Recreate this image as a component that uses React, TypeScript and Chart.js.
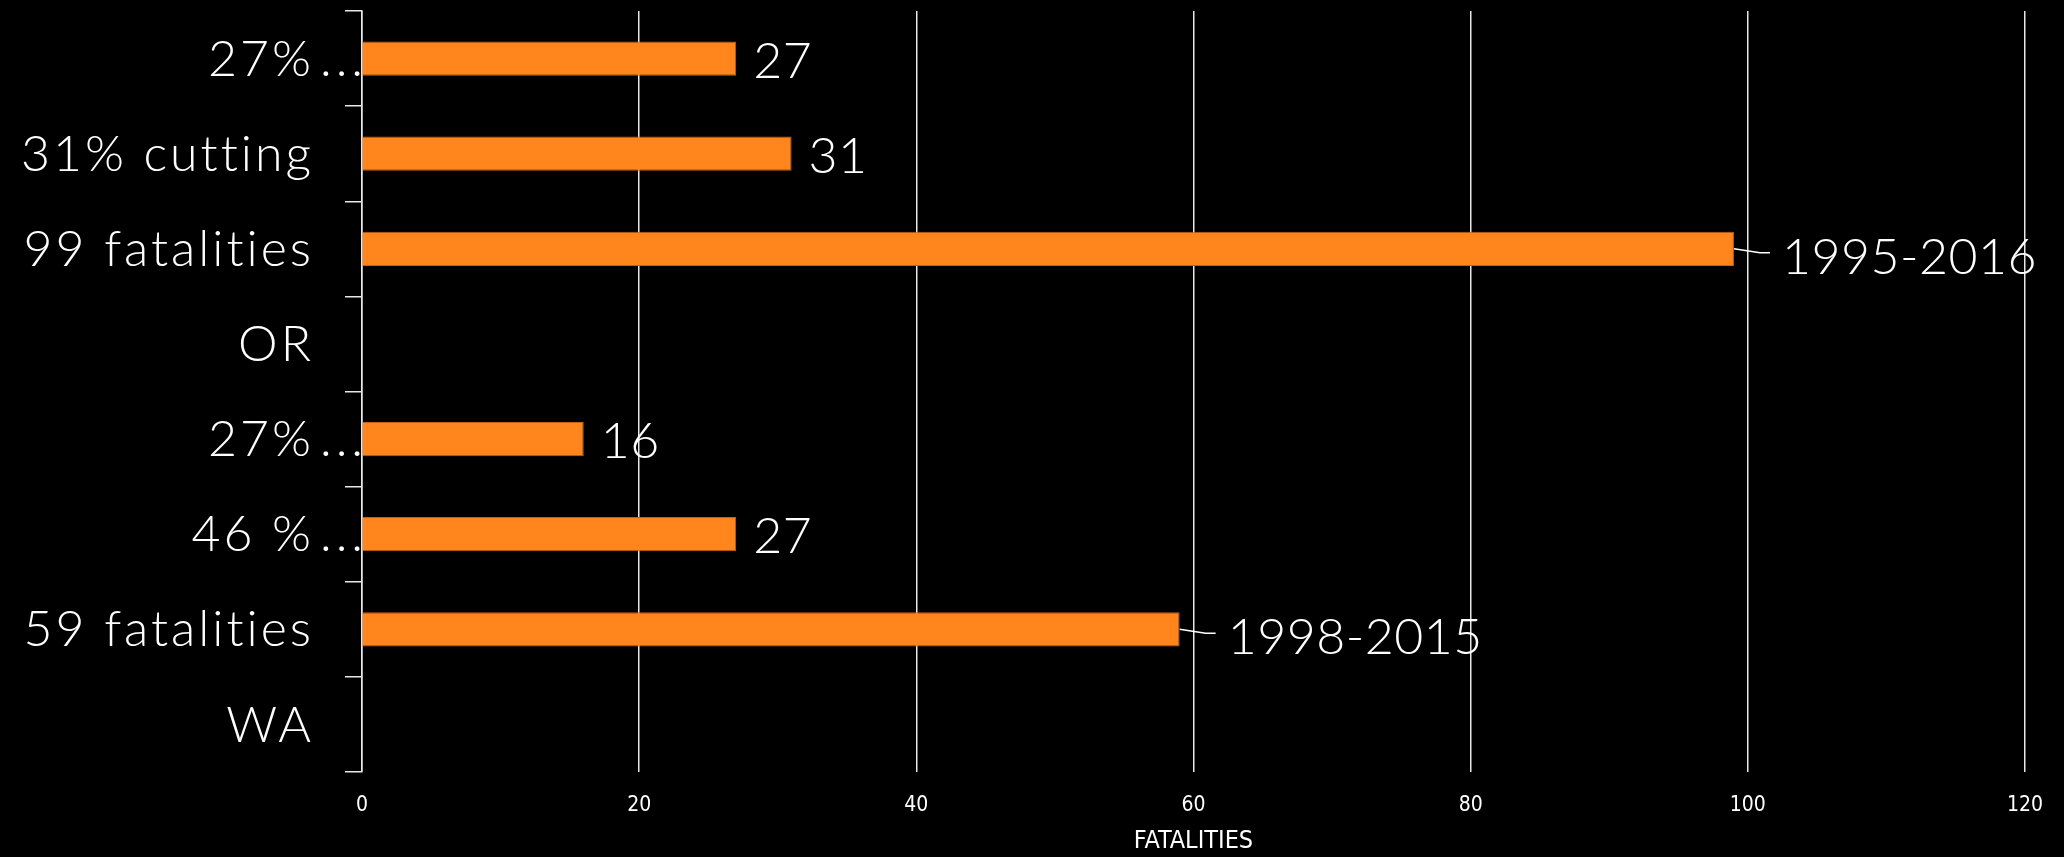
import React, { useEffect, useRef } from "react";
import { Chart, registerables } from "chart.js";

Chart.register(...registerables);

const categories = ["27%...", "31% cutting", "99 fatalities", "OR", "27%...", "46 %...", "59 fatalities", "WA"];
const fatalities: (number | null)[] = [27, 31, 99, null, 16, 27, 59, null];
const valueLabels = ["27", "31", "1995-2016", "", "16", "27", "1998-2015", ""];
const leaderLabels = [false, false, true, false, false, false, true, false];
const xMin = 0;
const xMax = 120;
const xStep = 20;
const axisTitle = "FATALITIES";

const BIG_FONT = '300 50px Lato, "Open Sans", sans-serif';
const NARROW = '"Liberation Sans Narrow", "DejaVu Sans Condensed", "Roboto Condensed", sans-serif';

const categoryLabelPlugin = {
  id: "categoryLabels",
  afterDraw(chart: any) {
    const ctx = chart.ctx;
    const yScale = chart.scales.y;
    const edge = chart.chartArea.left - 51;
    ctx.save();
    ctx.font = BIG_FONT;
    ctx.fillStyle = "#ffffff";
    ctx.textBaseline = "middle";
    (ctx as any).letterSpacing = "3px";
    categories.forEach((lab, i) => {
      const y = yScale.getPixelForValue(i) + 1;
      if (lab.endsWith("...")) {
        const base = lab.slice(0, -3);
        ctx.textAlign = "right";
        ctx.fillText(base, edge + 3, y);
        ctx.textAlign = "left";
        (ctx as any).letterSpacing = "4px";
        ctx.fillText("...", edge + 9, y);
        (ctx as any).letterSpacing = "3px";
      } else {
        ctx.textAlign = "right";
        ctx.fillText(lab, edge + 3, y);
      }
    });
    ctx.restore();
  },
};

const valueLabelPlugin = {
  id: "valueLabels",
  afterDatasetsDraw(chart: any) {
    const ctx = chart.ctx;
    const meta = chart.getDatasetMeta(0);
    ctx.save();
    ctx.font = BIG_FONT;
    (ctx as any).letterSpacing = "0.5px";
    ctx.fillStyle = "#ffffff";
    ctx.strokeStyle = "#ffffff";
    ctx.lineWidth = 1.5;
    ctx.textBaseline = "middle";
    ctx.textAlign = "left";
    meta.data.forEach((bar: any, i: number) => {
      if (fatalities[i] == null || !valueLabels[i]) return;
      const x = bar.x;
      const y = bar.y;
      if (leaderLabels[i]) {
        ctx.beginPath();
        ctx.moveTo(x, y);
        ctx.lineTo(x + 26, y + 4);
        ctx.lineTo(x + 36, y + 4);
        ctx.stroke();
        ctx.fillText(valueLabels[i], x + 48, y + 9);
      } else {
        ctx.fillText(valueLabels[i], x + 17, y + 3);
      }
    });
    ctx.restore();
  },
};

export default function App() {
  const canvasRef = useRef<HTMLCanvasElement | null>(null);

  useEffect(() => {
    document.body.style.margin = "0";
    document.body.style.background = "#000000";
    const canvas = canvasRef.current;
    if (!canvas) return;
    const chart = new Chart(canvas, {
      type: "bar",
      data: {
        labels: categories,
        datasets: [
          {
            data: fatalities as any,
            backgroundColor: "#FF851C",
            borderColor: "#C8600F",
            borderWidth: 1,
            categoryPercentage: 1,
            barPercentage: 0.36,
          },
        ],
      },
      options: {
        indexAxis: "y",
        animation: false,
        responsive: true,
        maintainAspectRatio: false,
        devicePixelRatio: 1,
        layout: { padding: { top: 11, right: 35, bottom: 0, left: 0 } },
        plugins: {
          legend: { display: false },
          tooltip: { enabled: false },
        },
        scales: {
          x: {
            type: "linear",
            min: xMin,
            max: xMax,
            ticks: {
              stepSize: xStep,
              color: "#ffffff",
              font: { family: NARROW, size: 21 },
              padding: 21,
            },
            grid: {
              color: "#e8e8e8",
              lineWidth: 1.5,
              drawTicks: false,
            },
            border: { display: false },
            title: {
              display: true,
              text: axisTitle,
              color: "#ffffff",
              font: { family: NARROW, size: 25 },
              padding: { top: 0, bottom: 1 },
            },
            afterFit(scale: any) {
              scale.height = 85;
            },
          },
          y: {
            type: "category",
            offset: true,
            ticks: { display: false },
            grid: {
              display: true,
              drawOnChartArea: false,
              drawTicks: true,
              tickLength: 17,
              color: "#e8e8e8",
              lineWidth: 1.5,
              offset: true,
            },
            border: { display: true, color: "#e8e8e8", width: 1.5 },
            afterFit(scale: any) {
              scale.width = 362;
            },
          },
        },
      },
      plugins: [categoryLabelPlugin, valueLabelPlugin],
    });
    return () => chart.destroy();
  }, []);

  return (
    <div style={{ width: "2064px", height: "857px", position: "relative", background: "#000000" }}>
      <canvas ref={canvasRef} />
    </div>
  );
}
